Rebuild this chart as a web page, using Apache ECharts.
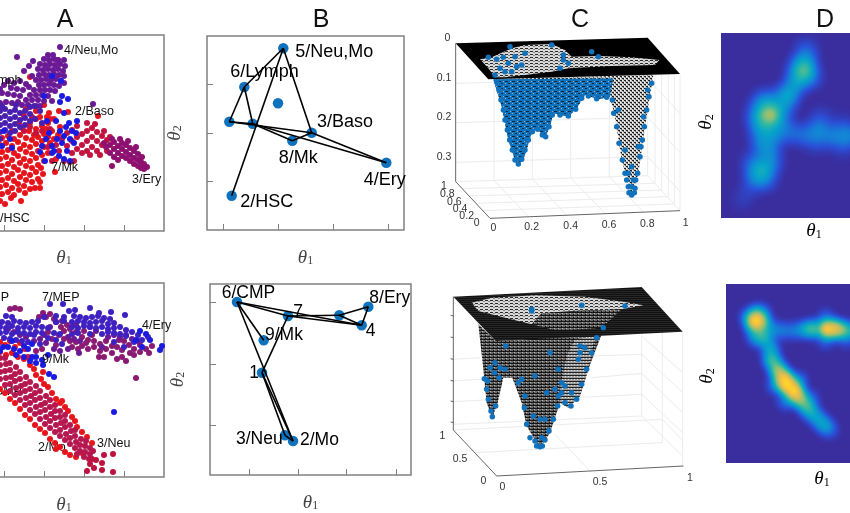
<!DOCTYPE html>
<html><head><meta charset="utf-8">
<style>html,body{margin:0;padding:0;background:#fff;overflow:hidden}#c{width:850px;height:513px}</style>
<script src="https://cdn.jsdelivr.net/npm/echarts@6/dist/echarts.min.js"></script>
</head><body><div id="c"></div>
<script>
// ---------- Panel A (top) ----------
const aTopRed=[[36,30],[41,27],[47,33],[57,30],[38,37],[44,39],[50,36],[55,41],[61,38],[36,44],[42,46],[48,43],[54,47],[60,45],[66,42],[76,49],[71,43],[76,43],[38,51],[44,53],[50,50],[56,54],[62,51],[68,49],[74,52],[79,57],[36,58],[42,60],[48,57],[54,61],[60,58],[66,56],[72,59],[77,63],[38,65],[44,67],[50,64],[56,68],[62,65],[68,63],[74,66],[80,70],[36,72],[42,74],[48,71],[54,75],[60,72],[66,70],[72,73],[78,76],[84,78],[38,79],[44,81],[50,78],[56,82],[62,79],[68,77],[74,80],[80,84],[86,88],[36,86],[42,88],[48,85],[54,89],[60,86],[66,84],[72,87],[78,90],[84,94],[38,93],[44,95],[50,92],[56,96],[62,93],[68,91],[74,94],[80,97],[88,100],[65,100],[72,102],[58,103],[78,105],[84,108],[66,108],[72,112],[60,115],[90,112],[96,104],[62,122],[76,114],[83,114],[80,126],[66,154],[94,171],[134,115],[104,119],[106,69],[91,59],[92,72],[85,118],[95,120],[72,120],[90,92],[94,96],[82,102],[70,96],[86,112]];
const aTopCrimson=[[98,92],[103,85],[103,98],[108,78],[108,90],[108,101],[113,82],[113,94],[113,105],[118,86],[118,97],[123,80],[123,90],[123,100],[123,108],[128,84],[128,94],[128,103],[133,80],[133,90],[133,99],[138,86],[138,95],[143,80],[143,91],[95,80],[88,70],[100,70],[60,100],[66,104],[72,98],[48,100],[55,108],[68,114],[78,100],[86,102],[92,86],[84,84],[110,70],[118,78],[126,76],[136,76],[140,100],[146,94],[131,107]];
const aTopMagenta=[[146,86],[150,82],[150,89],[154,78],[154,85],[158,75],[158,82],[158,88],[162,73],[162,79],[162,86],[166,70],[166,76],[166,83],[170,67],[170,73],[170,80],[174,65],[174,71],[174,77],[177,63],[177,69],[180,62],[180,67],[183,64],[146,78],[150,74],[154,71],[148,65],[140,88],[156,92],[164,90],[172,84],[178,74],[142,84],[148,92]];
const aTopPurple=[[84,176],[89,176],[80,172],[85,171],[90,172],[94,171],[76,167],[81,166],[86,167],[91,166],[96,167],[74,162],[79,161],[84,162],[89,161],[94,162],[99,160],[75,156],[80,157],[85,156],[90,157],[95,156],[100,155],[72,151],[77,151],[82,152],[87,151],[92,152],[97,150],[75,146],[80,146],[85,147],[90,146],[95,145],[70,141],[76,141],[81,141],[86,141],[91,140],[66,136],[72,136],[78,136],[84,135],[62,131],[68,131],[74,131],[80,130],[88,130],[58,126],[64,126],[70,125],[76,125],[96,184],[53,174],[65,165],[69,170],[60,160],[44,150],[50,148],[56,150],[62,147],[47,143],[53,142],[59,141],[65,144],[38,138],[44,137],[50,136],[56,135],[36,128],[42,129],[48,128],[54,129],[100,148],[101,165],[100,171],[129,127],[68,155],[40,146],[36,142]];
const aTopIndigo=[[36,120],[41,122],[46,119],[51,121],[56,118],[61,120],[66,117],[36,113],[41,115],[46,112],[51,114],[56,111],[61,113],[66,110],[71,112],[36,106],[41,108],[46,105],[51,107],[56,104],[61,106],[36,99],[41,101],[46,98],[51,100],[36,92],[76,120],[78,108],[72,125],[38,125],[52,126],[66,124]];
const aTopBlue=[[38,85],[46,92],[48,83],[40,100],[78,85],[82,92],[85,98],[88,85],[90,80],[93,92],[96,100],[98,88],[100,95],[102,104],[103,80],[106,92],[108,100],[110,88],[105,108],[95,75],[92,110],[83,110],[76,79],[81,70],[88,78],[100,72],[106,70],[112,98],[113,110],[98,135],[104,132],[96,129],[100,118],[80,135],[88,155],[97,150]];
const aTopLabels=[['4/Neu,Mo',100,180],['2/Baso',111,119],['7/Mk',87,63],['3/Ery',168,51],['6/Lymph',10,150],['2/HSC',29,12]];
// ---------- Panel A (bottom) ----------
const aBotRed=[[36,135],[41,132],[46,136],[51,130],[56,134],[61,128],[36,125],[42,122],[48,124],[54,120],[60,118],[66,112],[64,120],[70,108],[72,102],[77,98],[80,93],[84,90],[88,84],[92,78],[98,76],[101,70],[96,74],[104,66],[108,60],[111,56],[113,50],[118,45],[123,40],[128,34],[36,88],[41,84],[46,78],[51,74],[56,68],[61,62],[66,58],[71,52],[76,48],[81,44],[86,38],[91,34],[96,30],[101,25],[106,22],[112,20],[79,105],[92,28],[118,24]];
const aBotCrimson=[[36,98],[36,105],[36,112],[36,119],[41,92],[42,99],[41,106],[42,113],[41,119],[46,86],[46,93],[47,100],[46,107],[46,114],[51,82],[52,89],[51,96],[51,103],[52,110],[56,77],[56,84],[57,91],[56,98],[56,105],[61,72],[62,79],[61,86],[61,93],[62,100],[66,67],[66,74],[67,81],[66,88],[66,95],[71,63],[72,70],[71,77],[71,84],[72,91],[76,58],[76,65],[77,72],[76,79],[76,86],[81,53],[82,60],[81,67],[81,74],[82,81],[86,49],[86,56],[87,63],[86,70],[86,77],[91,45],[92,52],[91,59],[91,66],[91,72],[96,41],[96,47],[97,54],[96,60],[96,66],[101,37],[102,43],[101,50],[101,56],[101,62],[106,33],[106,39],[107,46],[106,52],[111,29],[112,35],[111,41],[111,47],[116,26],[116,32],[117,38],[121,25],[121,31],[122,36],[126,23],[126,29],[129,26],[113,23],[120,20],[125,18]];
const aBotTip=[[123,6],[130,9],[138,7],[149,5],[149,23],[140,22],[128,18],[138,14],[126,13],[132,17]];
const aBotMagenta=[[172,99],[51,169],[46,168],[56,168],[79,164],[82,160],[86,163],[75,160],[90,158],[97,150],[103,152],[106,148],[100,146],[95,142],[112,145],[118,140],[124,137],[130,136],[112,135],[118,131],[124,128],[130,130],[136,133],[136,126],[142,128],[148,131],[153,130],[158,127],[148,124],[160,136],[170,128],[176,125],[170,122],[182,128],[188,131],[185,124],[176,132],[165,132],[142,136],[155,137],[128,142],[120,146],[135,120],[162,116],[153,118],[100,138],[84,145],[88,138],[92,132],[78,128],[108,130],[72,126],[106,136],[114,128],[122,134],[140,120],[166,124],[158,120]];
const aBotPurple=[[44,148],[50,145],[56,142],[62,140],[70,136],[76,138],[82,134],[90,128],[96,126],[104,128],[115,124],[86,150],[92,155],[98,156],[104,140],[110,138],[116,136],[126,150],[132,146],[144,140],[150,142],[156,140],[162,142],[168,138],[174,136],[112,152],[138,130],[80,142]];
const aBotIndigo=[[42,161],[48,160],[80,160],[92,161],[100,160],[110,161],[116,160],[122,159],[128,160],[134,161],[140,159],[146,158],[38,155],[44,154],[50,156],[56,155],[62,154],[92,155],[100,156],[108,155],[114,156],[120,155],[126,154],[132,155],[138,156],[144,153],[150,154],[36,150],[42,149],[48,151],[54,149],[60,150],[66,149],[72,151],[78,150],[84,149],[108,150],[114,149],[120,151],[126,150],[132,149],[138,150],[144,148],[150,149],[156,150],[162,147],[36,144],[42,145],[48,143],[54,145],[60,144],[66,143],[72,145],[78,144],[90,144],[96,143],[108,143],[114,144],[126,143],[138,143],[144,145],[150,144],[156,143],[162,141],[168,145],[40,139],[46,138],[52,137],[58,136],[64,135],[70,142],[76,133],[84,139],[92,137],[98,133],[150,135],[160,130],[170,135],[174,142],[178,137],[184,140],[86,173],[99,173],[126,169],[147,165],[161,162],[105,166],[111,167],[135,164],[68,155],[74,156]];
const aBotBlue=[[36,126],[39,130],[44,130],[48,136],[50,128],[52,122],[56,126],[60,131],[64,128],[68,133],[60,120],[66,116],[72,120],[78,117],[84,122],[72,114],[68,120],[79,112],[85,103],[90,100],[150,65],[198,131],[196,127],[176,146],[182,143],[172,137],[186,137],[178,130]];
const aBotLabels=[['7/MEP',78,179],['4/Ery',178,151],['9/Mk',78,117],['3/Neu',133,33]];
const aBotLabelsUnder=[['2/Mo',74,29],['5/GMP',19,85],['6/CMP',7,179]];
// ---------- Panel B ----------
const bTopNodes=[[76.3,181.7],[37.3,143],[71,126.7],[22.3,108.3],[45.7,106.3],[104.7,97.3],[85.3,89.3],[179.3,67.3],[24.7,34.3]];
const bTopEdges=[[0,1],[1,3],[1,4],[0,5],[0,8],[3,5],[3,4],[4,7],[4,6],[6,5],[5,7]];
const bTopLabels=[['5/Neu,Mo',88.3,177.7],['6/Lymph',23.3,157.7],['3/Baso',110,107.7],['8/Mk',71.7,72.3],['4/Ery',156.7,50],['2/HSC',33.3,28.3]];
const bBotNodes=[[27,173],[78,159],[129.3,159.7],[158.3,168.3],[151.7,149.7],[53.7,134.7],[52,102.3],[75,39.7],[83,34]];
const bBotEdges=[[0,1],[0,4],[1,2],[1,4],[0,5],[0,8],[1,6],[6,8],[6,7],[7,8],[2,3],[3,4],[2,4]];
const bBotLabels=[['6/CMP',11.7,181.7],['7',83.3,163.3],['8/Ery',159.3,176.7],['4',155.7,144],['9/Mk',55,140],['1',39.3,101.7],['3/Neu',26,35.7],['2/Mo',90,34.7]];
// ---------- Panel C (projection plane) ----------
const cTopDark=[[[92,130],[92,545],[195,655],[765,632]]];
const cTopLight=[[[92,545],[668,527],[765,632]],[[668,113],[668,527]],[[765,222],[765,632]],[[92,250],[668,235],[765,340]],[[92,368],[668,352],[765,458]],[[92,487],[668,470],[765,575]],[[207,135],[207,541],[310,650]],[[322,130],[322,537],[425,645]],[[437,125],[437,534],[540,640]],[[553,120],[553,530],[655,636]],[[112,566],[690,550]],[[132,588],[710,570]],[[152,610],[728,590]],[[172,632],[748,612]],[[690,135],[690,550]],[[710,160],[710,570]],[[730,185],[730,590]],[[748,205],[748,612]]];
const cTopValley=[[205,238],[230,320],[250,420],[275,495],[295,480],[320,400],[335,385],[360,412],[375,380],[385,340],[430,350],[455,325],[480,285],[520,298],[555,290],[570,350],[590,480],[620,588],[640,520],[660,380],[685,225]];
const cTopBlueArea=[[205,238],[230,320],[250,420],[275,495],[295,480],[320,400],[335,385],[360,412],[375,380],[385,340],[430,350],[455,325],[480,285],[520,298],[555,290],[565,235]];
const cTopPlate=[[92,130],[668,113],[765,222],[190,238]];
const cTopHole=[[165,178],[200,172],[260,145],[300,135],[380,132],[420,150],[440,170],[520,168],[620,172],[703,180],[690,195],[560,198],[430,205],[380,215],[300,225],[240,232],[210,232],[190,205]];
const cTopDots=[[215,245],[222,270],[228,300],[235,330],[240,360],[247,390],[254,420],[262,450],[270,480],[280,492],[290,478],[300,450],[310,420],[322,395],[338,388],[352,405],[362,410],[372,380],[382,345],[405,345],[430,348],[452,328],[470,295],[490,288],[515,296],[545,292],[562,300],[566,340],[575,380],[582,430],[592,480],[600,520],[610,560],[620,585],[630,565],[638,520],[645,470],[652,420],[658,380],[665,330],[672,290],[680,250],[600,450],[620,500],[625,540],[610,520],[640,440],[580,330],[620,560],[612,578],[628,578],[605,540],[632,540],[648,440],[656,350],[668,270],[190,172],[215,178],[235,172],[250,190],[225,205],[240,215],[275,200],[270,170],[255,140],[300,160],[290,195],[380,135],[415,180],[430,190],[405,205],[500,155],[520,170],[415,165],[260,215],[210,225]];
const cTopTicks=[['0',67,113],['0.1',57,233],['0.2',57,352],['0.3',57,470],['1',57,558],['0.8',67,582],['0.6',88,605],['0.4',105,627],['0.2',125,647],['0',155,668],['0',205,685],['0.2',320,682],['0.4',437,678],['0.6',552,675],['0.8',667,672],['1',782,668]];
const cBotDark=[[[85,122],[85,522],[215,660],[775,630]]];
const cBotLight=[[[85,522],[712,490],[775,555]],[[650,93],[650,480]],[[712,230],[712,560]],[[773,227],[773,630]],[[650,240],[773,350]],[[650,295],[773,410]],[[650,352],[773,470]],[[650,415],[773,530]],[[650,480],[773,600]],[[650,295],[500,300]],[[650,352],[500,365]],[[650,415],[450,425]],[[650,480],[85,505]],[[150,590],[712,560]],[[500,650],[390,535]],[[78,437],[180,432]],[[78,375],[170,370]],[[78,310],[165,305]]];
const cBotAxisTicks=[[[85,180],[77,178]],[[85,245],[77,243]],[[85,310],[77,308]],[[85,375],[77,373]],[[85,437],[77,435]],[[85,500],[77,498]]];
const cBotValley=[[160,205],[175,340],[185,440],[202,485],[218,440],[235,365],[262,365],[290,440],[305,510],[345,577],[375,530],[405,440],[430,455],[465,420],[490,340],[530,235],[212,255]];
const cBotLobe=[[405,400],[425,300],[450,250],[510,240],[490,340],[465,420],[430,455],[405,440]];
const cBotPlate=[[85,122],[650,93],[773,227],[212,255]];
const cBotHole=[[140,140],[200,125],[330,118],[480,122],[600,138],[655,148],[590,160],[440,165],[350,172],[320,205],[240,185],[160,165]];
const cBotInner=[[350,172],[590,160],[530,215],[400,225],[320,205]];
const cBotDots=[[178,368],[185,400],[190,430],[198,465],[202,482],[212,450],[195,335],[210,320],[225,335],[240,340],[208,350],[188,375],[222,365],[242,270],[290,370],[300,420],[298,455],[305,505],[315,545],[330,555],[345,572],[360,552],[372,525],[385,490],[398,450],[410,410],[420,440],[438,450],[455,430],[470,385],[485,340],[500,290],[515,245],[535,215],[465,270],[480,275],[375,290],[400,340],[365,410],[345,490],[325,480],[360,490],[410,380],[440,410],[400,420],[330,360],[280,380],[320,165],[470,148],[320,160],[600,150],[465,290],[460,310],[420,390],[390,400],[350,545],[335,570],[352,570]];
const cBotTicks=[['1',52,540],['0.5',105,608],['0',175,675],['0',232,692],['0.5',525,678],['1',795,665]];
// ---------- Panel D (density) ----------
const dTopDensity=[[49,103,1],[36,103,.3],[62,108,.3],[48,118,.3],[45,88,.3],[38,92,.3],[60,92,.25],[40,115,.25],[66,122,.55],[75,135,.45],[83,148,.7],[85,160,.3],[90,140,.25],[76,150,.2],[85,170,.15],[41,48,.4],[34,40,.3],[50,55,.3],[45,38,.25],[32,55,.25],[48,68,.3],[40,75,.3],[55,82,.25],[97,88,.3],[85,82,.22],[72,85,.22],[110,82,.25],[122,82,.28],[135,82,.28],[148,85,.25],[97,75,.15],[122,70,.12],[122,94,.12],[100,100,.15],[21,18,.08],[28,28,.08]];
const dBotDensity=[[30,142,1],[30,150,.3],[23,145,.3],[36,150,.25],[38,127,.45],[30,125,.3],[44,115,.4],[28,135,.35],[38,140,.45],[50,133,.25],[62,132,.22],[75,133,.3],[86,134,.6],[101,134,1],[110,134,.8],[118,133,.5],[130,132,.4],[140,131,.35],[150,130,.3],[100,145,.2],[100,123,.2],[120,123,.15],[46,103,.55],[52,93,.7],[58,85,.9],[61,78,1],[68,72,1],[73,65,.7],[80,57,.5],[86,50,.35],[93,43,.3],[99,37,.28],[104,33,.15],[50,78,.3],[72,82,.3],[60,62,.25],[85,65,.15]];
const parula=['#3a2d9e','#2a4fd8','#1481D6','#06A4CA','#2EB7A4','#87BF77','#D1BB59','#FEC832','#F9FB0E'];
const titles=[['A',60],['B',316],['C',575],['D',820]];

// ---------- Helpers ----------
function pat(w,h,bg,draw){const c=document.createElement('canvas');c.width=w;c.height=h;const g=c.getContext('2d');g.fillStyle=bg;g.fillRect(0,0,w,h);draw(g);return {image:c,repeat:'repeat'};}
const patLight=pat(5,3,'#d8d8d8',g=>{g.fillStyle='#2a2a2a';g.fillRect(0,0,3,1);g.fillStyle='#888';g.fillRect(3,1,2,1);});
const patMesh=pat(4,4,'#c9c9c9',g=>{g.fillStyle='#1c1c1c';g.fillRect(0,0,2,1);g.fillRect(2,2,2,1);g.fillStyle='#fff';g.fillRect(2,0,1,1);g.fillRect(0,2,1,1);g.fillStyle='#666';g.fillRect(1,1,1,1);g.fillRect(3,3,1,1);});
const patBlue=pat(7,5,'#1072bd',g=>{g.fillStyle='#10283c';g.fillRect(1,1,3,1);g.fillRect(4,3,2,1);g.fillStyle='#9fb0bd';g.fillRect(6,1,1,1);g.fillRect(1,3,1,1);});
const patDark=pat(4,3,'#6a6a6a',g=>{g.fillStyle='#151515';g.fillRect(0,0,4,1);g.fillRect(1,2,1,1);g.fillStyle='#b5b5b5';g.fillRect(2,1,1,1);});
const patLobe=pat(3,3,'#9f9f9f',g=>{g.fillStyle='#222';g.fillRect(0,0,3,1);g.fillStyle='#e0e0e0';g.fillRect(1,1,1,1);});
const patPlate=pat(2,2,'#262626',g=>{g.fillStyle='#111';g.fillRect(0,0,2,1);});

const grid=[],xAxis=[],yAxis=[],series=[];
const thetaRich={i:{fontFamily:'Liberation Serif',fontStyle:'italic',fontSize:19,color:'#444'},s:{fontFamily:'Liberation Serif',fontSize:12,color:'#444',padding:[7,0,0,0]}};
function boxPanel(l,t,w,h,xTicks,yTicks,yGap,xGap){
  const gi=grid.length;
  grid.push({left:l,top:t,width:w,height:h,show:true,borderColor:'#808080',borderWidth:1.5,backgroundColor:'#fff',containLabel:false,outerBoundsMode:'none'});
  const xi=xAxis.length,yi=yAxis.length;
  const tk=(v)=>({show:true,length:3,customValues:v,lineStyle:{color:'#808080',width:1}});
  const common={type:'value',gridIndex:gi,offset:-3,splitLine:{show:false},axisLine:{show:false},axisLabel:{show:false}};
  xAxis.push({...common,position:'bottom',min:0,max:w,axisTick:tk(xTicks),name:'{i|θ}{s|1}',nameLocation:'middle',nameGap:xGap+3,nameTextStyle:{rich:thetaRich}});
  xAxis.push({...common,position:'top',min:0,max:w,axisTick:tk(xTicks)});
  yAxis.push({...common,position:'left',min:0,max:h,axisTick:tk(yTicks),name:yGap?'{i|θ}{s|2}':'',nameLocation:'middle',nameGap:yGap+3,nameTextStyle:{rich:thetaRich}});
  yAxis.push({...common,position:'right',min:0,max:h,axisTick:tk(yTicks)});
  return {xi,yi};
}
function planePanel(l,t){
  const gi=grid.length;
  grid.push({left:l,top:t,width:270,height:256,show:false,containLabel:false,outerBoundsMode:'none'});
  const xi=xAxis.length,yi=yAxis.length;
  xAxis.push({type:'value',gridIndex:gi,min:15,max:825,show:false});
  yAxis.push({type:'value',gridIndex:gi,min:0,max:768,inverse:true,show:false});
  return {xi,yi};
}
function dots(p,data,color,size,z){series.push({type:'scatter',xAxisIndex:p.xi,yAxisIndex:p.yi,data,symbolSize:size,itemStyle:{color,opacity:1},silent:true,z:z||2,clip:false,animation:false});}
function labels(p,arr,size,color,z,align){series.push({type:'scatter',xAxisIndex:p.xi,yAxisIndex:p.yi,symbolSize:0,silent:true,z:z||5,clip:false,animation:false,
  data:arr.map(a=>({value:[a[1],a[2]],name:a[0]})),
  label:{show:true,position:'inside',align:align||'left',verticalAlign:'middle',formatter:'{b}',fontFamily:'Liberation Sans',fontSize:size,color:color||'#000',opacity:1,textBorderWidth:0}});}
function edges(p,nodes,list,z){series.push({type:'lines',coordinateSystem:'cartesian2d',xAxisIndex:p.xi,yAxisIndex:p.yi,polyline:false,silent:true,z:z||3,animation:false,
  lineStyle:{color:'#000',width:1.6,opacity:1,curveness:0},data:list.map(e=>({coords:[nodes[e[0]],nodes[e[1]]]}))});}
function polys(p,list,color,width,z){series.push({type:'lines',coordinateSystem:'cartesian2d',xAxisIndex:p.xi,yAxisIndex:p.yi,polyline:true,silent:true,z:z||1,animation:false,
  lineStyle:{color,width,opacity:1},data:list.map(c=>({coords:c}))});}
function poly(p,pts,fill,z){series.push({type:'custom',xAxisIndex:p.xi,yAxisIndex:p.yi,silent:true,z:z||2,clip:false,animation:false,data:pts,encode:{x:0,y:1},
  renderItem:(params,api)=>params.dataIndex===0?{type:'polygon',shape:{points:pts.map(q=>api.coord(q))},style:{fill}}:null});}

// ---------- Build A ----------
const pA1=boxPanel(-36,35,200,196,[40,80,120,160],[32.7,65.3,98,130.7,163.3],0,17);
[[aTopRed,'#e8141c'],[aTopCrimson,'#c2143f'],[aTopMagenta,'#8e1070'],[aTopPurple,'#6b1a96'],[aTopIndigo,'#4a1fb0'],[aTopBlue,'#1a1ae0']].forEach(s=>dots(pA1,s[0],s[1],6));
labels(pA1,aTopLabels,12.5,'#111');
const pA2=boxPanel(-36,283,200,194,[40,80,120,160],[39,78,117,156],0,18);
labels(pA2,aBotLabelsUnder,12.5,'#111',1);
[[aBotRed,'#e8141c'],[aBotCrimson,'#b5174f'],[aBotTip,'#bd1240'],[aBotMagenta,'#8a1a72'],[aBotPurple,'#6b1a96'],[aBotIndigo,'#3f20c0'],[aBotBlue,'#1a1ae0']].forEach(s=>dots(pA2,s[0],s[1],6));
labels(pA2,aBotLabels,12.5,'#111');
// ---------- Build B ----------
const pB1=boxPanel(207,36,197,194,[16,71,126,181],[48.5,97,145.5],23,18);
dots(pB1,bTopNodes,'#1072bd',10.5);edges(pB1,bTopNodes,bTopEdges);labels(pB1,bTopLabels,18,'#000');
const pB2=boxPanel(210,284,201,191,[39.3,88.3,136.7,186],[49.7,111,172.3],23,18);
dots(pB2,bBotNodes,'#1072bd',10.5);edges(pB2,bBotNodes,bBotEdges);labels(pB2,bBotLabels,17.5,'#000');
// ---------- Build C ----------
const pC1=planePanel(430,0);
polys(pC1,cTopLight,'#ececec',1,1);polys(pC1,cTopDark,'#666',1,1);
poly(pC1,cTopValley,patMesh,2);poly(pC1,cTopBlueArea,patBlue,2);
poly(pC1,cTopPlate,'#000',3);poly(pC1,cTopHole,patLight,3);
dots(pC1,cTopDots,'#1072bd',5.5,4);
labels(pC1,cTopTicks,10.5,'#333',5,'center');
const pC2=planePanel(430,256);
polys(pC2,cBotLight,'#ececec',1,1);polys(pC2,cBotDark,'#666',1,1);polys(pC2,cBotAxisTicks,'#666',1,1);
poly(pC2,cBotValley,patDark,2);poly(pC2,cBotLobe,patLobe,2);
poly(pC2,cBotPlate,patPlate,3);poly(pC2,cBotHole,patLight,3);poly(pC2,cBotInner,patDark,3);
dots(pC2,cBotDots,'#1072bd',5.5,4);
labels(pC2,cBotTicks,10.5,'#333',5,'center');
// ---------- Build D ----------
function sq(s){return {type:'FeatureCollection',features:[{type:'Feature',properties:{name:'box'},geometry:{type:'Polygon',coordinates:[[[0,0],[s,0],[s,s],[0,s],[0,0]]]}}]};}
echarts.registerMap('boxTop',sq(185));echarts.registerMap('boxBot',sq(179));
const geo=[
 {map:'boxTop',left:721,top:33,width:185,height:185,aspectScale:1,roam:false,silent:true,label:{show:false},itemStyle:{areaColor:parula[0],borderWidth:0},z:1},
 {map:'boxBot',left:726,top:284,width:179,height:179,aspectScale:1,roam:false,silent:true,label:{show:false},itemStyle:{areaColor:parula[0],borderWidth:0},z:1}];
const hs=series.length;
series.push({type:'heatmap',coordinateSystem:'geo',geoIndex:0,data:dTopDensity,pointSize:9,blurSize:14,minOpacity:1,maxOpacity:1,silent:true,z:2,animation:false});
series.push({type:'heatmap',coordinateSystem:'geo',geoIndex:1,data:dBotDensity,pointSize:8,blurSize:10,minOpacity:1,maxOpacity:1,silent:true,z:2,animation:false});
const thetaText=(t,x,y,rot)=>({type:'text',x,y,rotation:rot?Math.PI/2:0,z:10,silent:true,style:{text:t,rich:thetaRich,align:'center',verticalAlign:'middle'}});

echarts.init(document.getElementById('c'),null,{renderer:'canvas'}).setOption({
 animation:false,backgroundColor:'#fff',
 title:titles.map(t=>({text:t[0],left:t[1],top:3,textAlign:'center',textStyle:{fontFamily:'Liberation Sans',fontWeight:'normal',fontSize:25,color:'#111'}})),
 grid,xAxis,yAxis,geo,series,
 visualMap:[0,1].map(i=>({type:'continuous',show:false,min:0,max:1,seriesIndex:hs+i,dimension:2,inRange:{color:parula}})),
 graphic:[thetaText('{i|θ}{s|1}',814,231),thetaText('{i|θ}{s|2}',706,122,true),thetaText('{i|θ}{s|1}',822,479),thetaText('{i|θ}{s|2}',707,376,true)]
});
</script></body></html>
